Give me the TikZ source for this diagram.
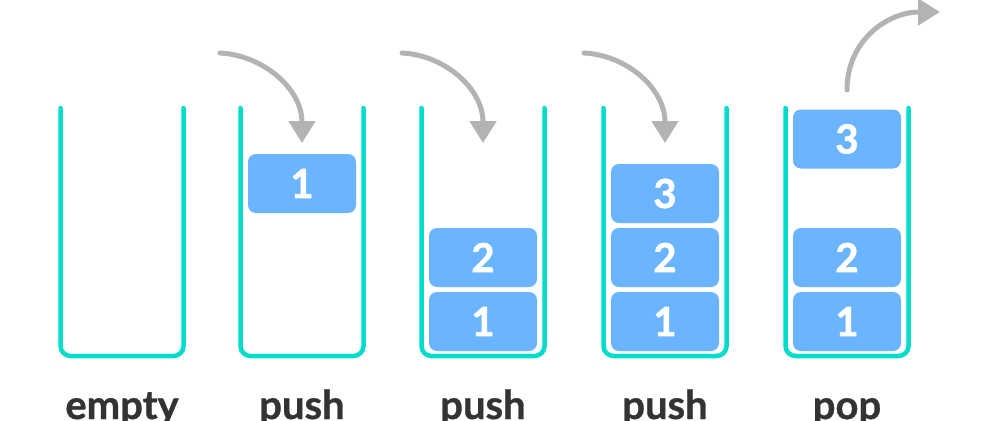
\documentclass[tikz,border=0pt]{standalone}
\usepackage{fontspec}
\setmainfont{Lato}
\newfontfamily\heavyfont{Lato}[BoldFeatures={FakeBold=1.6}]
\newfontfamily\captionfont{Lato}[BoldFeatures={FakeBold=0.8}]
\usetikzlibrary{arrows.meta}
\definecolor{wallteal}{HTML}{00DDCB}
\definecolor{blockblue}{HTML}{6BB4FF}
\definecolor{arrowgray}{HTML}{B3B3B3}
\definecolor{labelgray}{HTML}{333333}
\begin{document}
\begin{tikzpicture}[x=1pt,y=-1pt,
  stackwall/.style={draw=wallteal,line width=4.5pt,rounded corners=10pt,line cap=round},
  block/.style={fill=blockblue,rounded corners=8pt,minimum width=108pt,minimum height=59pt,inner sep=0pt,text=white,font=\heavyfont\fontsize{40}{40}\selectfont\bfseries},
  caption/.style={anchor=base,text=labelgray,font=\captionfont\fontsize{40}{40}\selectfont\bfseries,inner sep=0pt},
  flow/.style={draw=arrowgray,line width=5pt,line cap=round,-{Triangle[width=26pt,length=22pt]}}]
\useasboundingbox[fill=white] (0,0) rectangle (1000,420);
\clip (0,0) rectangle (1000,420);
% containers
\foreach \c in {122,302,483,665,847}{
  \draw[stackwall] (\c-61.5,108) -- (\c-61.5,356) -- (\c+61.5,356) -- (\c+61.5,108);
}
% blocks
\node[block] (b2one) at (302,183.5) {1};
\node[block] (b3one) at (483,321.5) {1};
\node[block] (b3two) at (483,257.5) {2};
\node[block] (b4one) at (665,321.5) {1};
\node[block] (b4two) at (665,257.5) {2};
\node[block] (b4three) at (665,193.5) {3};
\node[block] (b5one) at (847,321.5) {1};
\node[block] (b5two) at (847,257.5) {2};
\node[block] (b5three) at (847,139) {3};
% arrows
\coordinate (s2) at (220,53);  \coordinate (t2) at (302,143);
\coordinate (s3) at (402,53);  \coordinate (t3) at (483,143);
\coordinate (s4) at (584,53);  \coordinate (t4) at (665,143);
\coordinate (s5) at (847,90);  \coordinate (t5) at (940,12);
\draw[flow] (s2) .. controls (262,55) and (302,88) .. (t2);
\draw[flow] (s3) .. controls (444,55) and (483,88) .. (t3);
\draw[flow] (s4) .. controls (626,55) and (665,88) .. (t4);
\draw[flow] (s5) .. controls (847,40) and (888,12) .. (t5);
% labels
\node[caption] (l1) at (122,419) {empty};
\node[caption] (l2) at (302,419) {push};
\node[caption] (l3) at (483,419) {push};
\node[caption] (l4) at (665,419) {push};
\node[caption] (l5) at (847,419) {pop};
\end{tikzpicture}
\end{document}
